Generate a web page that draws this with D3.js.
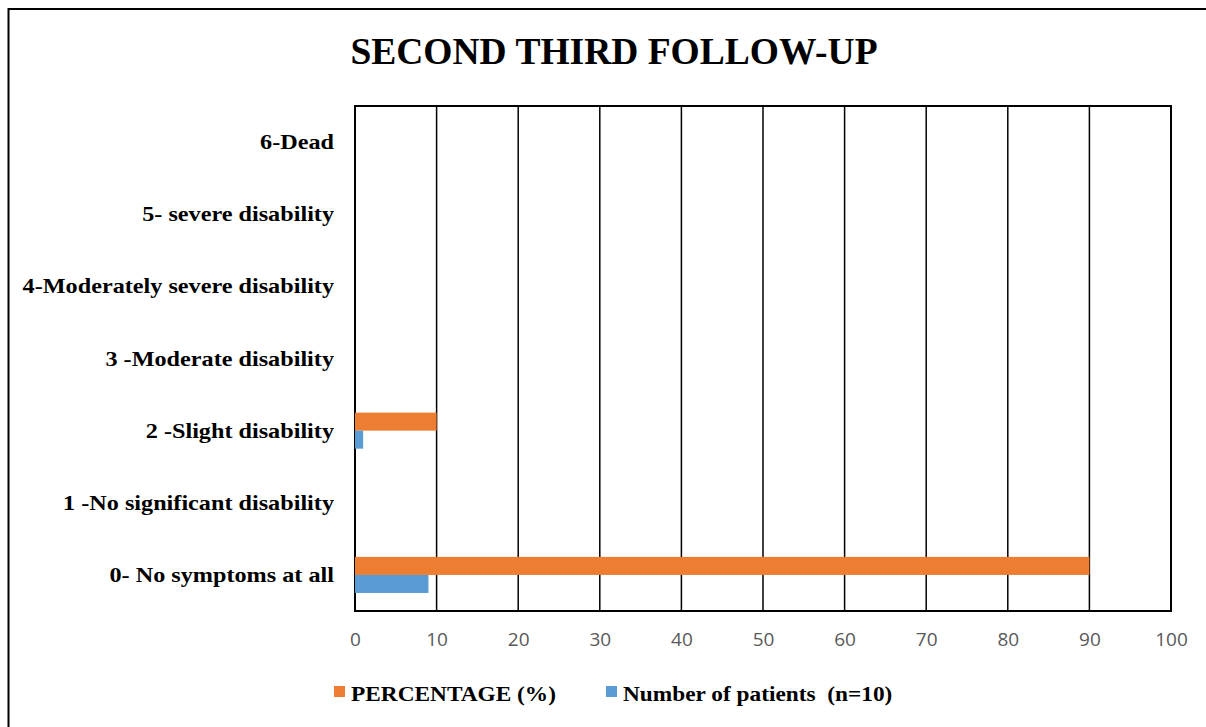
<!DOCTYPE html>
<html>
<head>
<meta charset="utf-8">
<script src="https://cdn.jsdelivr.net/npm/d3@7"></script>
<style>
  body { margin: 0; background: #fff; }
</style>
</head>
<body>
<svg id="chart"></svg>
<script>
const categories = [
  '0- No symptoms at all',
  '1 -No significant disability',
  '2 -Slight disability',
  '3 -Moderate disability',
  '4-Moderately severe disability',
  '5- severe disability',
  '6-Dead'
];
const percentage = [90, 0, 10, 0, 0, 0, 0];
const patients = [9, 0, 1, 0, 0, 0, 0];
const xTicks = [0, 10, 20, 30, 40, 50, 60, 70, 80, 90, 100];
const seriesNames = ['PERCENTAGE (%)', 'Number of patients  (n=10)'];
const colors = ['#ED7D31', '#5B9BD5'];

const width = 1206, height = 727;
const margin = {top: 106, right: 35, bottom: 116, left: 355};
const innerW = width - margin.left - margin.right;
const innerH = height - margin.top - margin.bottom;
const serif = '"Liberation Serif", "Times New Roman", serif';

const svg = d3.select('#chart').attr('width', width).attr('height', height);

// widen text horizontally without changing its height
function widen(sel, stretch) {
  sel.each(function() {
    const len = this.getComputedTextLength();
    d3.select(this).attr('textLength', len * stretch).attr('lengthAdjust', 'spacingAndGlyphs');
  });
}

// outer frame (runs off the right and bottom edge)
svg.append('rect')
  .attr('x', 8.5).attr('y', 9)
  .attr('width', 1240).attr('height', 760)
  .attr('fill', 'none').attr('stroke', '#000').attr('stroke-width', 2);

svg.append('text')
  .attr('x', 614).attr('y', 64)
  .attr('text-anchor', 'middle')
  .style('font-family', serif)
  .style('font-weight', 'bold').style('font-size', '37.5px')
  .text('SECOND THIRD FOLLOW-UP');

const g = svg.append('g').attr('transform', `translate(${margin.left},${margin.top})`);

const x = d3.scaleLinear().domain([0, 100]).range([0, innerW]);
// first category sits at the bottom
const y = d3.scaleBand().domain(categories.slice().reverse()).range([0, innerH]).paddingInner(0.5).paddingOuter(0.25);

// gridlines
g.selectAll('.grid').data(xTicks).join('line')
  .attr('x1', d => x(d)).attr('x2', d => x(d))
  .attr('y1', 0).attr('y2', innerH)
  .attr('stroke', '#000').attr('stroke-width', 1.5);

g.append('rect')
  .attr('width', innerW).attr('height', innerH)
  .attr('fill', 'none').attr('stroke', '#000').attr('stroke-width', 2);

const rows = categories.map((c, i) => ({cat: c, pct: percentage[i], n: patients[i]}));
const bh = y.bandwidth() / 2;

g.selectAll('.bar-pct').data(rows).join('rect')
  .attr('x', x(0)).attr('y', d => y(d.cat))
  .attr('width', d => x(d.pct) - x(0)).attr('height', bh)
  .attr('fill', colors[0]);

g.selectAll('.bar-n').data(rows).join('rect')
  .attr('x', x(0)).attr('y', d => y(d.cat) + bh)
  .attr('width', d => x(d.n) - x(0)).attr('height', bh)
  .attr('fill', colors[1]);

// x axis labels
const xAxis = d3.axisBottom(x).tickValues(xTicks).tickSize(0).tickPadding(22);
const xg = g.append('g').attr('transform', `translate(0,${innerH})`).call(xAxis);
xg.select('.domain').remove();
xg.selectAll('text')
  .attr('fill', '#595959')
  .style('font-family', '"Open Sans", "Liberation Sans", sans-serif')
  .style('font-size', '19px');

// y axis labels
const yAxis = d3.axisLeft(y).tickSize(0).tickPadding(21);
const yg = g.append('g').call(yAxis);
yg.select('.domain').remove();
yg.selectAll('text')
  .attr('fill', '#000')
  .style('font-family', serif)
  .style('font-weight', 'bold')
  .style('font-size', '22px')
  .call(widen, 1.1);

// legend
const legendX = [334, 606];
const legend = svg.append('g');
seriesNames.forEach((name, i) => {
  legend.append('rect')
    .attr('x', legendX[i]).attr('y', 686)
    .attr('width', 11).attr('height', 11)
    .attr('fill', colors[i]);
  legend.append('text')
    .attr('x', legendX[i] + 17).attr('y', 701)
    .style('font-family', serif)
    .style('font-weight', 'bold').style('font-size', '22px')
    .style('white-space', 'pre')
    .text(name)
    .call(widen, 1.06);
});
</script>
</body>
</html>
